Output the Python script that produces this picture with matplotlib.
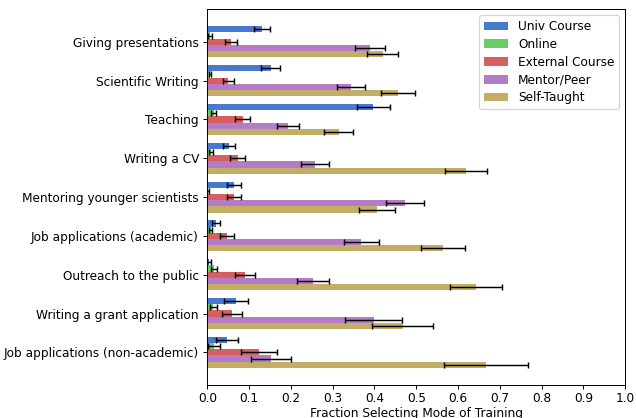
import numpy as np
import matplotlib
matplotlib.use("Agg")
import matplotlib.pyplot as plt

skills = ["Giving presentations", "Scientific Writing", "Teaching", "Writing a CV",
          "Mentoring younger scientists", "Job applications (academic)",
          "Outreach to the public", "Writing a grant application",
          "Job applications (non-academic)"]

modes = ["Univ Course", "Online", "External Course", "Mentor/Peer", "Self-Taught"]
colors = ["#4878CF", "#6ACC65", "#D65F5F", "#B47CC7", "#C4AD66"]

univ = [0.131, 0.152, 0.397, 0.052, 0.064, 0.020, 0.004, 0.069, 0.047]
univ_err = [0.019, 0.023, 0.039, 0.015, 0.017, 0.010, 0.005, 0.028, 0.027]
online = [0.007, 0.006, 0.015, 0.009, 0.002, 0.008, 0.015, 0.014, 0.016]
online_err = [0.005, 0.003, 0.006, 0.004, 0.002, 0.004, 0.007, 0.008, 0.015]
external = [0.057, 0.050, 0.085, 0.073, 0.064, 0.047, 0.090, 0.059, 0.124]
external_err = [0.014, 0.013, 0.018, 0.018, 0.017, 0.016, 0.024, 0.025, 0.043]
mentor = [0.389, 0.344, 0.193, 0.258, 0.473, 0.368, 0.253, 0.398, 0.152]
mentor_err = [0.035, 0.034, 0.027, 0.033, 0.046, 0.042, 0.039, 0.068, 0.048]
self_taught = [0.420, 0.456, 0.314, 0.619, 0.406, 0.564, 0.643, 0.468, 0.667]
self_err = [0.037, 0.040, 0.035, 0.051, 0.043, 0.052, 0.063, 0.073, 0.101]

values = [univ, online, external, mentor, self_taught]
errors = [univ_err, online_err, external_err, mentor_err, self_err]

# figure drawn at a lower dpi so text and lines come out a bit smaller, like the original
fig, ax = plt.subplots(figsize=(636 / 87, 418 / 87), dpi=87)
y = np.arange(len(skills))
h = 0.16
for i in range(len(modes)):
    ax.barh(y + (i - 2) * h, values[i], height=h, color=colors[i], label=modes[i],
            xerr=errors[i], error_kw=dict(ecolor="black", elinewidth=1.2, capsize=2.5, capthick=1.2))

ax.set_yticks(y)
ax.set_yticklabels(skills)
ax.invert_yaxis()
ax.set_xlim(0, 1.0)
ax.set_xticks(np.arange(0, 1.01, 0.1))
ax.tick_params(axis="x", pad=2.5)
ax.set_xlabel("Fraction Selecting Mode of Training", labelpad=1.5)
ax.legend(loc="upper right", labelspacing=0.4)
plt.subplots_adjust(left=0.326, right=0.983, top=0.978, bottom=0.079)
fig.savefig("out.png", dpi=87)
